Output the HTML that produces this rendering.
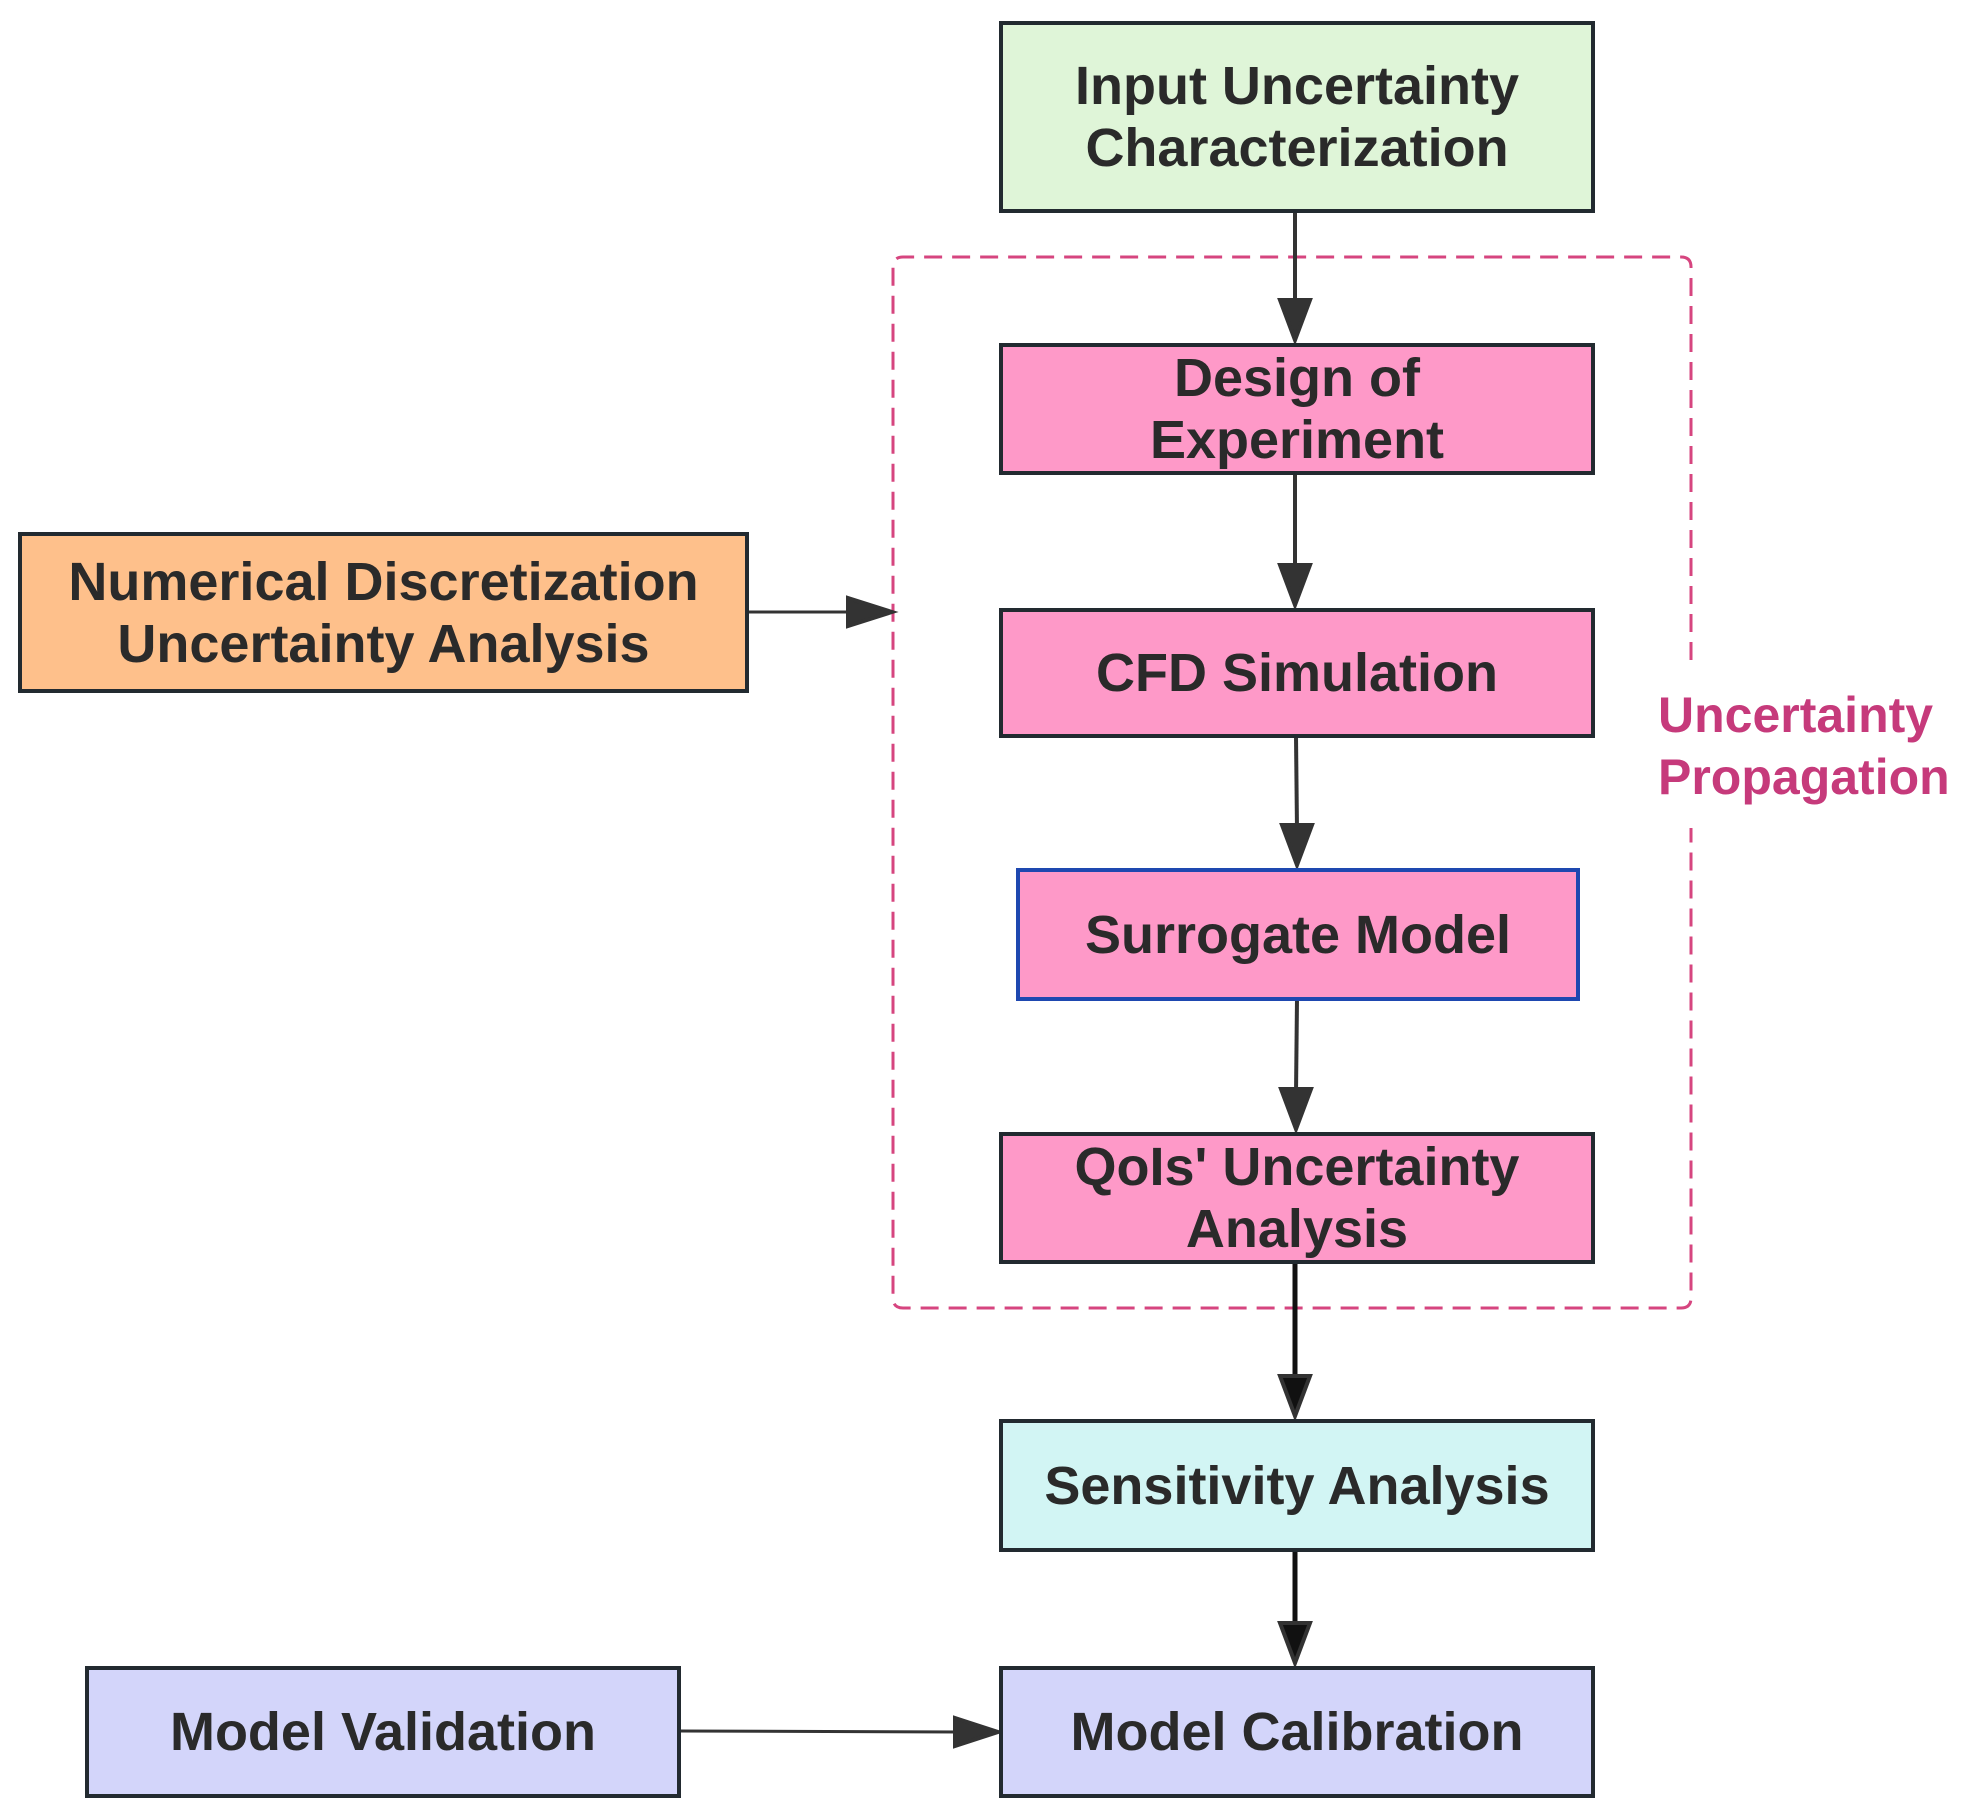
<!DOCTYPE html>
<html><head><style>
html,body{margin:0;padding:0;background:#fff;}
body{width:1984px;height:1819px;position:relative;overflow:hidden;font-family:"Liberation Sans",sans-serif;}
.b{position:absolute;box-sizing:border-box;border:4px solid #222a30;display:flex;align-items:center;justify-content:center;text-align:center;font-weight:bold;font-size:54px;line-height:62px;color:#2a2a2a;white-space:nowrap;}
.pk{background:#fe99c8;}
</style></head><body>
<svg width="1984" height="1819" style="position:absolute;left:0;top:0">
<g fill="none" stroke="#d6457f" stroke-width="3" stroke-dasharray="18,10">
<path d="M1691,660 L1691,267 Q1691,257 1681,257 L903,257 Q893,257 893,267 L893,1298 Q893,1308 903,1308 L1681,1308 Q1691,1308 1691,1298 L1691,828"/>
</g>
<g stroke="#333" stroke-width="4" fill="#333">
<line x1="1295" y1="211" x2="1295" y2="305"/><path d="M1280,300L1310,300L1295,340z"/>
<line x1="1295" y1="473" x2="1295" y2="570"/><path d="M1280,565L1310,565L1295,605z"/>
<line x1="1296" y1="736" x2="1297" y2="830"/><path d="M1282,825L1312,825L1297,865z"/>
<line x1="1297" y1="999" x2="1296" y2="1094"/><path d="M1281,1089L1311,1089L1296,1129z"/>
<line x1="1295" y1="1262" x2="1295" y2="1380" stroke="#111" stroke-width="5"/><path d="M1280,1376L1310,1376L1295,1416z" fill="#111"/>
<line x1="1295" y1="1550" x2="1295" y2="1628" stroke="#111" stroke-width="5"/><path d="M1280,1623L1310,1623L1295,1663z" fill="#111"/>
<line x1="746" y1="612" x2="852" y2="612" stroke-width="3"/><path d="M848,598L892,612L848,626z"/>
<line x1="679" y1="1731" x2="960" y2="1732" stroke-width="3"/><path d="M955,1718L998,1732L955,1746z"/>
</g>
</svg>
<div class="b" style="left:999px;top:21px;width:596px;height:192px;background:#dff5d8;">Input Uncertainty<br>Characterization</div>
<div class="b pk" style="left:999px;top:343px;width:596px;height:132px;">Design of<br>Experiment</div>
<div class="b pk" style="left:999px;top:608px;width:596px;height:130px;">CFD Simulation</div>
<div class="b pk" style="left:1016px;top:868px;width:564px;height:133px;border-color:#1e48b0;">Surrogate Model</div>
<div class="b pk" style="left:999px;top:1132px;width:596px;height:132px;">QoIs' Uncertainty<br>Analysis</div>
<div class="b" style="left:999px;top:1419px;width:596px;height:133px;background:#d2f5f4;">Sensitivity Analysis</div>
<div class="b" style="left:999px;top:1666px;width:596px;height:132px;background:#d3d5fa;">Model Calibration</div>
<div class="b" style="left:85px;top:1666px;width:596px;height:132px;background:#d3d5fa;">Model Validation</div>
<div class="b" style="left:18px;top:532px;width:731px;height:161px;background:#fec08b;">Numerical Discretization<br>Uncertainty Analysis</div>
<div style="position:absolute;left:1658px;top:684px;font-weight:bold;font-size:50px;line-height:62px;color:#c63a7b;white-space:nowrap;">Uncertainty<br>Propagation</div>
</body></html>
